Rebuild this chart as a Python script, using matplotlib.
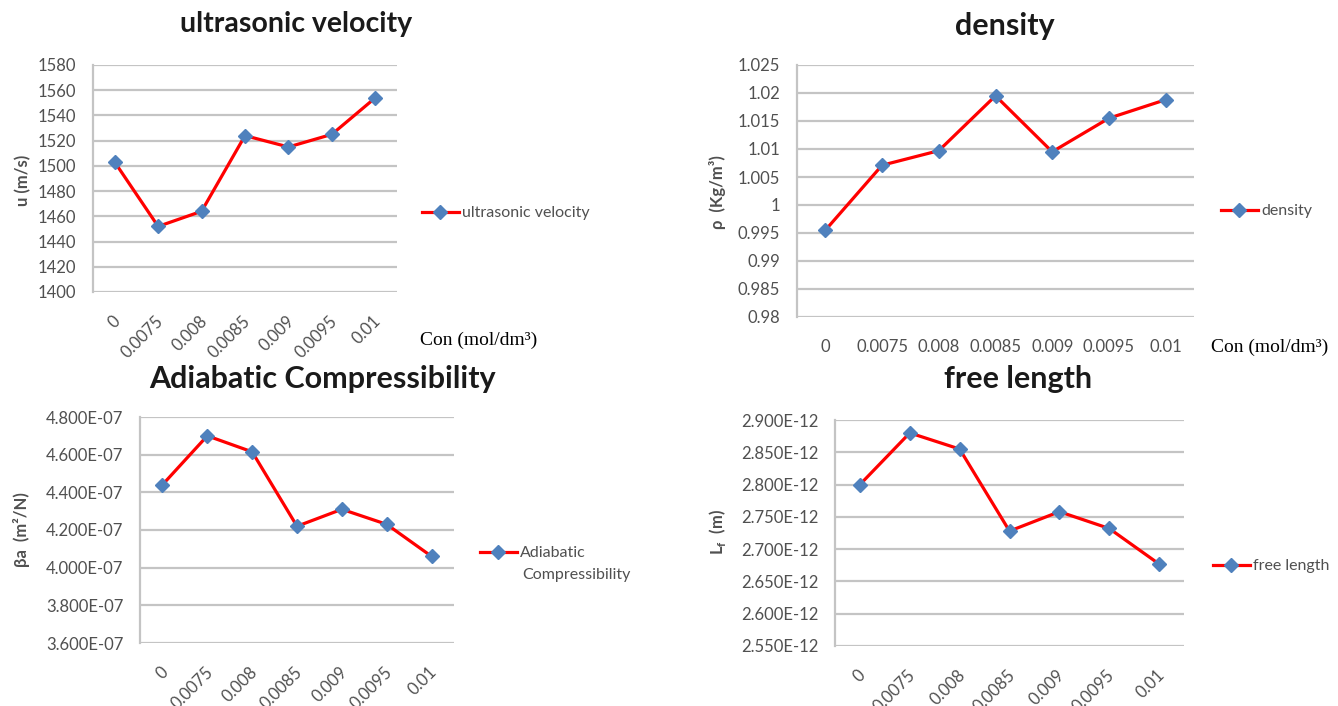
import matplotlib.pyplot as plt
import matplotlib.transforms as mtransforms
import numpy as np

plt.rcParams['font.family'] = ['Lato', 'DejaVu Sans']

# concentration categories (mol/dm3)
conc = ['0', '0.0075', '0.008', '0.0085', '0.009', '0.0095', '0.01']

velocity = [1503, 1452, 1464, 1524, 1515, 1525, 1554]
density = [0.9955, 1.0071, 1.0097, 1.0195, 1.0095, 1.0155, 1.0188]
compress = [4.44e-7, 4.70e-7, 4.615e-7, 4.22e-7, 4.31e-7, 4.23e-7, 4.06e-7]
free_len = [2.800e-12, 2.880e-12, 2.855e-12, 2.728e-12, 2.758e-12, 2.732e-12, 2.677e-12]

W, H = 1338, 706
fig = plt.figure(figsize=(W / 100, H / 100), dpi=100)

grid_col = '#C4C4C4'
tick_col = '#505050'


def px(x, y):
    return x / W, 1 - y / H


def add_panel(left, top, right, bottom):
    return fig.add_axes([left / W, 1 - bottom / H, (right - left) / W, (bottom - top) / H])


def draw(ax, vals, ylim, step, fmt, legend_label, legend_xy, rotate=True):
    x = np.arange(len(conc))
    ax.plot(x, vals, color='#FF0000', lw=2.3, marker='D', ms=7.5,
            mfc='#4F81BD', mec='#4F81BD', label=legend_label, zorder=3)
    ax.set_xlim(-0.5, len(conc) - 0.5)
    ax.set_ylim(*ylim)
    ticks = np.arange(ylim[0], ylim[1] + step / 2, step)
    ax.set_yticks(ticks)
    ax.set_yticklabels([fmt(t) for t in ticks])
    ax.yaxis.grid(True, color=grid_col, lw=1.6)
    ax.set_axisbelow(True)
    for s in ['top', 'right', 'bottom']:
        ax.spines[s].set_visible(False)
    ax.spines['left'].set_color(grid_col)
    ax.spines['left'].set_linewidth(1.6)
    ax.tick_params(length=0, labelsize=12, colors=tick_col)
    ax.tick_params(axis='y', pad=12)
    ax.set_xticks(x)
    if rotate:
        ax.set_xticklabels(conc, rotation=45, ha='right', va='center',
                           rotation_mode='anchor')
        ax.tick_params(axis='x', pad=19)
        shift = mtransforms.ScaledTranslation(3 / 100, 0, fig.dpi_scale_trans)
        for lab in ax.get_xticklabels():
            lab.set_transform(lab.get_transform() + shift)
    else:
        ax.set_xticklabels(conc)
        ax.tick_params(axis='x', pad=16)
    ax.legend(loc='center left', bbox_to_anchor=px(*legend_xy),
              bbox_transform=fig.transFigure, frameon=False, fontsize=11.5,
              borderpad=0, borderaxespad=0, handlelength=2.3,
              handletextpad=0.2, labelcolor=tick_col)


def label_y(xy, text):
    fig.text(*px(*xy), text, rotation=90, fontsize=12, fontweight='bold',
             color=tick_col, ha='center', va='center')


def title(xy, text, size):
    fig.text(*px(*xy), text, fontsize=size, fontweight='bold',
             ha='center', va='center', color='#1a1a1a')


ax1 = add_panel(93, 65, 397, 292)
draw(ax1, velocity, (1400, 1580), 20, lambda v: f'{v:.0f}',
     'ultrasonic velocity', (422, 213))
label_y((23, 180), 'u (m/s)')
title((296, 24), 'ultrasonic velocity', 20.5)

ax2 = add_panel(797, 65, 1194, 317)
draw(ax2, density, (0.98, 1.025), 0.005,
     lambda v: f'{v:.3f}'.rstrip('0').rstrip('.'),
     'density', (1221, 211), rotate=False)
label_y((717, 192), 'ρ  (Kg/m³)')
title((1005, 26), 'density', 22)

ax3 = add_panel(140, 417, 454, 643)
draw(ax3, compress, (3.6e-7, 4.8e-7), 0.2e-7, lambda v: f'{v:.3E}',
     'Adiabatic', (480, 553))
fig.text(*px(522, 575), 'Compressibility', fontsize=11.5, color=tick_col,
         ha='left', va='center')
label_y((22, 530), 'βa  (m²/N)')
title((322, 379), 'Adiabatic Compressibility', 22)

ax4 = add_panel(835, 420, 1184, 646)
draw(ax4, free_len, (2.55e-12, 2.9e-12), 0.05e-12, lambda v: f'{v:.3E}',
     'free length', (1213, 566))
label_y((717, 532), r'L$_\mathregular{f}$  (m)')
title((1018, 379), 'free length', 22)

# concentration axis labels (serif, as in the original)
fig.text(*px(420, 340), 'Con (mol/dm³)', fontsize=14, family='Liberation Serif',
         va='center', ha='left')
fig.text(*px(1211, 347), 'Con (mol/dm³)', fontsize=14, family='Liberation Serif',
         va='center', ha='left')

fig.savefig('out.png', dpi=100, facecolor='white')
